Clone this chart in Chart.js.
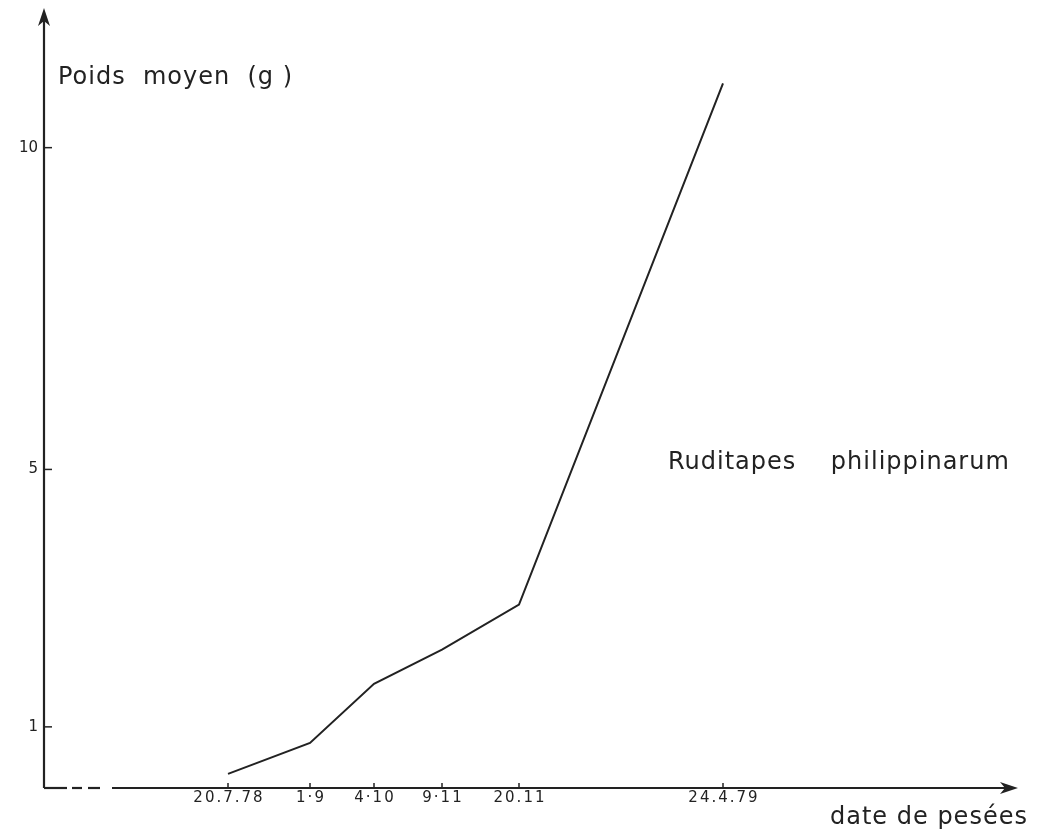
<!DOCTYPE html>
<html>
<head>
<meta charset="utf-8">
<script src="https://cdn.jsdelivr.net/npm/chart.js@4"></script>
<style>
  html, body { margin: 0; padding: 0; background: #fff; }
  #wrap { width: 1046px; height: 836px; }
</style>
</head>
<body>
<div id="wrap"><canvas id="poids"></canvas></div>
<script>
// --- Data ---
const dateLabels = ['20.7.78', '1·9', '4·10', '9·11', '20.11', '24.4.79'];
// position of each weighing date along the (non-proportional) time axis
const datePos = [18.4, 26.6, 33.0, 39.8, 47.5, 67.9];
// mean weight in grams
const poidsMoyen = [0.27, 0.75, 1.67, 2.20, 2.90, 11.0];
const yTicks = [1, 5, 10];

const ink = '#222';
const font = '"DejaVu Sans", sans-serif';

// axes, ticks, arrows and captions drawn by hand like the original sketch
const handAxes = {
    id: 'handAxes',
    afterDraw(chart) {
        const ctx = chart.ctx;
        const a = chart.chartArea;
        const x = chart.scales.x, y = chart.scales.y;
        ctx.save();
        ctx.strokeStyle = ink;
        ctx.fillStyle = ink;
        ctx.lineWidth = 2.2;

        // y axis + arrow
        ctx.beginPath();
        ctx.moveTo(a.left, a.bottom);
        ctx.lineTo(a.left, a.top + 10);
        ctx.stroke();
        ctx.beginPath();
        ctx.moveTo(a.left, a.top);
        ctx.lineTo(a.left - 6, a.top + 18);
        ctx.lineTo(a.left, a.top + 13);
        ctx.lineTo(a.left + 6, a.top + 18);
        ctx.closePath();
        ctx.fill();

        // x axis: short solid start, two dashes, then solid with arrow
        const segs = [[0, 23], [28, 38], [44, 56], [68, a.right - a.left - 8]];
        segs.forEach(s => {
            ctx.beginPath();
            ctx.moveTo(a.left + s[0], a.bottom);
            ctx.lineTo(a.left + s[1], a.bottom);
            ctx.stroke();
        });
        ctx.beginPath();
        ctx.moveTo(a.right, a.bottom);
        ctx.lineTo(a.right - 18, a.bottom - 6);
        ctx.lineTo(a.right - 13, a.bottom);
        ctx.lineTo(a.right - 18, a.bottom + 6);
        ctx.closePath();
        ctx.fill();

        // y ticks
        ctx.lineWidth = 1.5;
        ctx.font = '15px ' + font;
        ctx.textAlign = 'right';
        ctx.textBaseline = 'middle';
        yTicks.forEach(v => {
            const py = y.getPixelForValue(v);
            ctx.beginPath();
            ctx.moveTo(a.left, py);
            ctx.lineTo(a.left + 8, py);
            ctx.stroke();
            ctx.fillText(String(v), a.left - 6, py);
        });

        // x ticks
        ctx.textAlign = 'center';
        ctx.textBaseline = 'top';
        ctx.letterSpacing = '2px';
        datePos.forEach((v, i) => {
            const px = x.getPixelForValue(v);
            ctx.beginPath();
            ctx.moveTo(px, a.bottom);
            ctx.lineTo(px, a.bottom - 5);
            ctx.stroke();
            ctx.fillText(dateLabels[i], px + 1, a.bottom + 3);
        });

        // captions
        ctx.font = '24px ' + font;
        ctx.textBaseline = 'middle';
        ctx.letterSpacing = '1px';
        ctx.textAlign = 'left';
        ctx.fillText('Poids  moyen  (g )', 58, 78);
        ctx.fillText('Ruditapes    philippinarum', 668, 463);
        ctx.fillText('date de pesées', 830, 818);
        ctx.restore();
    }
};

const ctx = document.getElementById('poids').getContext('2d');
new Chart(ctx, {
    type: 'line',
    data: {
        datasets: [{
            data: datePos.map((p, i) => ({ x: p, y: poidsMoyen[i] })),
            borderColor: ink,
            borderWidth: 2,
            pointRadius: 0,
            tension: 0,
            fill: false
        }]
    },
    options: {
        responsive: true,
        maintainAspectRatio: false,
        animation: false,
        layout: { padding: { left: 44, right: 28, top: 8, bottom: 48 } },
        plugins: { legend: { display: false }, tooltip: { enabled: false } },
        scales: {
            x: { type: 'linear', min: 0, max: 97.4, display: false },
            y: { type: 'linear', min: 0.05, max: 12.17, display: false }
        }
    },
    plugins: [handAxes]
});
</script>
</body>
</html>
